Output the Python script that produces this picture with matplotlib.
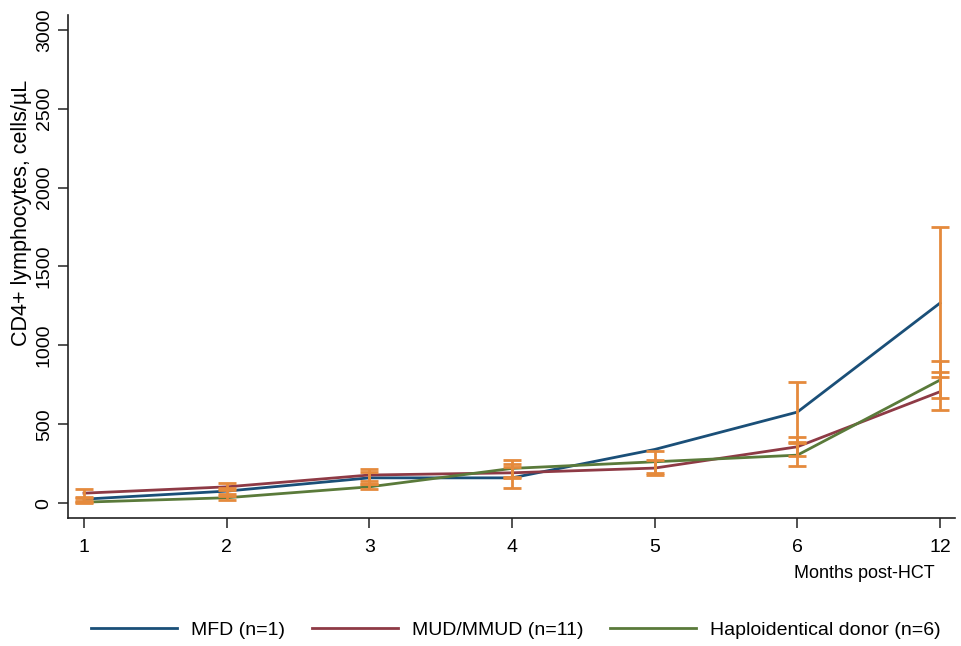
import numpy as np
import matplotlib
matplotlib.use('Agg')
import matplotlib.pyplot as plt

# Font close to Helvetica/Arial
plt.rcParams['font.family'] = ['Liberation Sans', 'DejaVu Sans']

# Data (nan = no error bar shown)
months = ['1', '2', '3', '4', '5', '6', '12']
series_names = ['MFD (n=1)', 'MUD/MMUD (n=11)', 'Haploidentical donor (n=6)']

mfd_mean = [25, 76, 160, 160, 340, 577, 1268]
mfd_low = [10, 60, 119, 93, np.nan, 385, 797]
mfd_high = [40, 93, 195, 247, np.nan, 769, 1748]

mud_mean = [63, 103, 178, 192, 222, 357, 706]
mud_low = [35, 80, 140, 157, 178, 298, 590]
mud_high = [90, 129, 216, 226, 273, 421, 829]

haplo_mean = [6, 34, 103, 220, 262, 304, 780]
haplo_low = [0, 19, 87, 167, 192, 235, 664]
haplo_high = [15, 45, 119, 273, 330, 383, 902]

line_colors = ['#1a4f78', '#8e3a45', '#5a7a3a']
err_color = '#e58a3c'


def plot_cd4():
    fig = plt.figure(figsize=(9.62, 6.46), dpi=100)
    ax = fig.add_axes([0.0707, 0.198, 0.922, 0.779])

    x = np.arange(len(months))
    means = [mfd_mean, mud_mean, haplo_mean]
    lows = [mfd_low, mud_low, haplo_low]
    highs = [mfd_high, mud_high, haplo_high]

    # Lines for each donor group
    for name, m, c in zip(series_names, means, line_colors):
        ax.plot(x, m, color=c, linewidth=2, label=name, zorder=2)

    # Error bars drawn on top in orange, skipping missing ones
    for m, lo, hi in zip(means, lows, highs):
        m, lo, hi = np.array(m, float), np.array(lo, float), np.array(hi, float)
        ok = ~np.isnan(lo)
        yerr = [m[ok] - lo[ok], hi[ok] - m[ok]]
        ax.errorbar(x[ok], m[ok], yerr=yerr, fmt='none', ecolor=err_color,
                    elinewidth=2, capsize=6.5, capthick=2, zorder=3)

    ax.set_xlim(-0.112, 6.105)
    ax.set_ylim(-95, 3095)
    ax.set_xticks(x)
    ax.set_xticklabels(months, fontsize=14)
    ax.set_yticks(np.arange(0, 3001, 500))
    ax.set_yticklabels([str(v) for v in range(0, 3001, 500)],
                       fontsize=14, rotation=90, va='center')
    ax.tick_params(axis='both', direction='out', length=7, width=1.2,
                   color='#333333')
    ax.tick_params(axis='x', pad=8)
    ax.tick_params(axis='y', pad=4)

    for side in ['top', 'right']:
        ax.spines[side].set_visible(False)
    for side in ['left', 'bottom']:
        ax.spines[side].set_linewidth(1.2)
        ax.spines[side].set_color('#222222')

    ax.set_ylabel('CD4+ lymphocytes, cells/\u00b5L', fontsize=15.5)
    ax.yaxis.set_label_coords(-0.041, 0.606)
    ax.set_xlabel('Months post-HCT', fontsize=13, ha='right')
    ax.xaxis.set_label_coords(0.9775, -0.093)

    fig.legend(loc='center', bbox_to_anchor=(0.5364, 0.025), ncol=3,
               frameon=False, fontsize=14, handlelength=4.4,
               columnspacing=1.4, handletextpad=0.72)

    fig.savefig('out.png', dpi=100)
    plt.close(fig)


if __name__ == '__main__':
    plot_cd4()
